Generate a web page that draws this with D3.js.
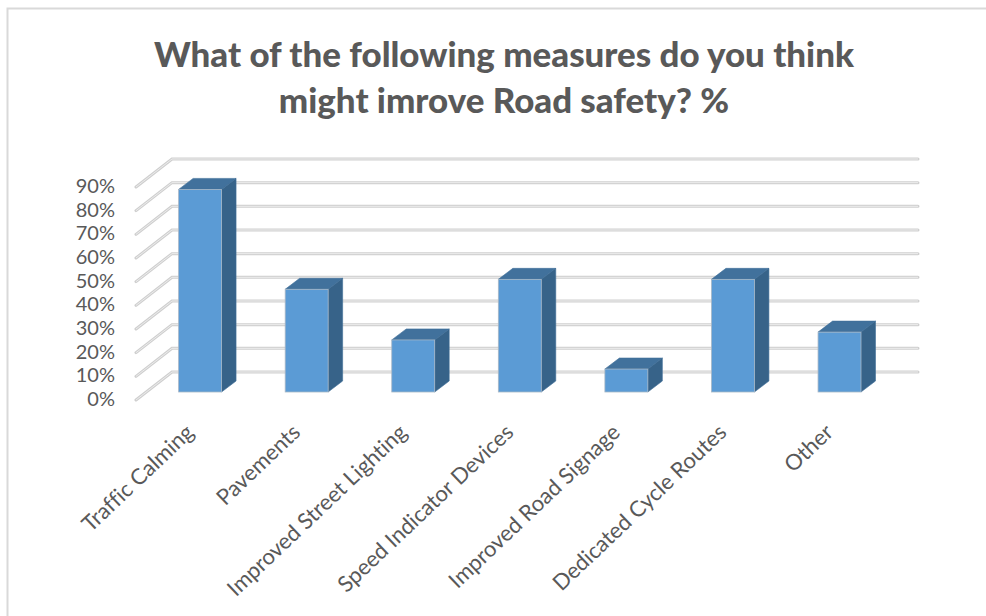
<!DOCTYPE html>
<html><head><meta charset="utf-8">
<script src="https://cdn.jsdelivr.net/npm/d3@7"></script>
<style>html,body{margin:0;padding:0;background:#fff}svg{display:block}text{font-variant-ligatures:none}</style>
</head><body><svg id="c" width="986" height="616"></svg>
<script>
const titleLines = ["What of the following measures do you think","might imrove Road safety? %"];
const categories = ["Traffic Calming","Pavements","Improved Street Lighting","Speed Indicator Devices","Improved Road Signage","Dedicated Cycle Routes","Other"];
const values = [85.6,43.4,22,47.6,9.7,47.6,25.3];
const ticks = [0,10,20,30,40,50,60,70,80,90];

const svg = d3.select("#c");
const font = "Lato, 'Open Sans', sans-serif";
const depth = {x:36, y:-28};
const barDepth = {x:14.5, y:-11};
const x = d3.scaleBand().domain(categories).range([136,882]).paddingInner(0.597).paddingOuter(0.2985);
const y = d3.scaleLinear().domain([0,90]).range([400,187]);
const barBase = 392, barShiftX = 10.8;
const yBar = d3.scaleLinear().domain([0,90]).range([barBase,barBase-213]);

svg.append("path").attr("d","M986,8.5H7.5V616").attr("fill","none").attr("stroke","#d9d9d9").attr("stroke-width",2);

svg.append("g").selectAll("text").data(titleLines).join("text")
  .attr("x",504).attr("y",(d,i)=>[67,113][i]).attr("text-anchor","middle")
  .attr("font-family",font).attr("font-weight",900).attr("font-size",34.9).attr("fill","#595959").text(d=>d);

const grid = svg.append("g");
ticks.forEach(t=>{
  const d=`M${x.range()[0]},${y(t)}L${x.range()[0]+depth.x},${y(t)+depth.y}H${x.range()[1]+depth.x}`;
  grid.append("path").attr("d",d).attr("fill","none").attr("stroke","#cfcfcf").attr("stroke-width",3).attr("stroke-linecap","round");
  grid.append("path").attr("d",d).attr("fill","none").attr("stroke","#ececec").attr("stroke-width",1);
});

svg.append("g").selectAll("text").data(ticks).join("text")
  .attr("x",115).attr("y",d=>y(d)+6).attr("text-anchor","end")
  .attr("font-family",font).attr("font-size",20).attr("fill","#595959").text(d=>d+"%");

const bars = svg.append("g").selectAll("g").data(categories).join("g");
const bx = c=>x(c)+barShiftX, bw = x.bandwidth();
bars.append("path").attr("d",(c,i)=>{const l=bx(c),r=l+bw,t=yBar(values[i]);
  return `M${l},${t}L${l+barDepth.x},${t+barDepth.y}H${r+barDepth.x}L${r},${t}Z`;}).attr("fill","#41719c").attr("stroke","#3f6f99").attr("stroke-width",.6);
bars.append("path").attr("d",(c,i)=>{const r=bx(c)+bw,t=yBar(values[i]);
  return `M${r},${t}L${r+barDepth.x},${t+barDepth.y}V${barBase+barDepth.y}L${r},${barBase}Z`;}).attr("fill","#376389").attr("stroke","#3f6f99").attr("stroke-width",.6);
bars.append("rect").attr("x",bx).attr("width",bw).attr("y",(c,i)=>yBar(values[i])).attr("height",(c,i)=>barBase-yBar(values[i]))
  .attr("fill","#5b9bd5").attr("stroke","#a9b8c6").attr("stroke-width",.8);

svg.append("g").selectAll("text").data(categories).join("text")
  .attr("text-anchor","end")
  .attr("transform",c=>`translate(${bx(c)+bw/2-5},${434}) rotate(-43.5)`)
  .attr("font-family",font).attr("font-size",22).attr("fill","#595959").text(d=>d);
</script></body></html>
